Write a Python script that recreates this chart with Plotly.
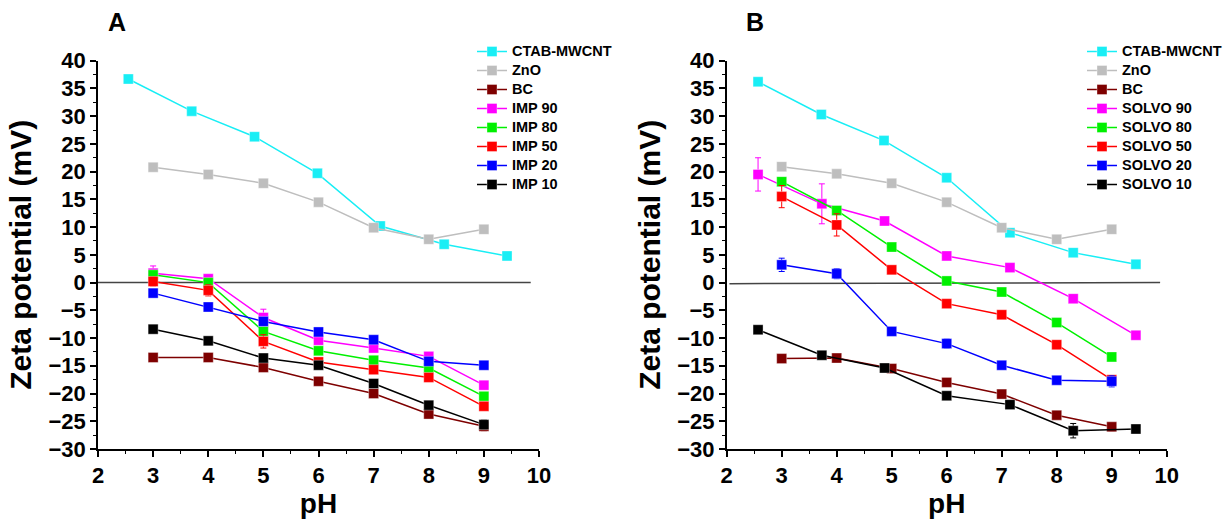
import plotly.graph_objects as go

# pH grid shared by most samples and the staggered grid of the titration runs
ph_std = [3, 4, 5, 6, 7, 8, 9]
ph_ctab_a = [2.55, 3.70, 4.84, 5.98, 7.12, 8.28, 9.42]
ph_ctab_b = [2.57, 3.72, 4.86, 6.00, 7.15, 8.30, 9.44]
ph_solvo_stag = [2.57, 3.73, 4.87, 6.00, 7.15, 8.30, 9.44]

# Panel A: zeta potential (mV)
a_ctab = [36.7, 30.9, 26.3, 19.7, 10.2, 6.9, 4.8]
a_zno = [20.8, 19.5, 17.9, 14.5, 9.9, 7.8, 9.6]
a_bc = [-13.5, -13.5, -15.3, -17.8, -20.0, -23.7, -25.9]
a_imp90 = [1.7, 0.7, -6.3, -10.4, -11.8, -13.3, -18.5]
a_imp80 = [1.4, 0.0, -8.8, -12.3, -14.0, -15.4, -20.5]
a_imp50 = [0.2, -1.4, -10.6, -14.3, -15.7, -17.1, -22.3]
a_imp20 = [-1.9, -4.4, -7.0, -8.9, -10.3, -14.2, -14.9]
a_imp10 = [-8.4, -10.5, -13.6, -14.9, -18.2, -22.1, -25.6]

a_err_ctab = [0.4, 0.4, 0.4, 0.6, 0.5, 0.4, 0.4]
a_err_zno = [0.4, 0.4, 0.6, 0.4, 0.4, 0.5, 0.4]
a_err_bc = [0.5, 0.5, 0.6, 0.5, 0.5, 0.6, 0.8]
a_err_imp90 = [1.3, 0.6, 1.5, 0.6, 0.5, 0.5, 0.5]
a_err_imp80 = [0.5, 0.5, 0.6, 0.5, 0.5, 0.5, 0.5]
a_err_imp50 = [0.8, 1.0, 1.2, 0.5, 0.5, 0.5, 0.5]
a_err_imp20 = [0.5, 0.5, 0.6, 0.5, 0.6, 0.5, 0.4]
a_err_imp10 = [0.5, 0.4, 0.5, 0.5, 0.6, 0.5, 0.8]

# Panel B: zeta potential (mV)
b_ctab = [36.2, 30.3, 25.6, 18.9, 9.0, 5.4, 3.3]
b_zno = [20.9, 19.6, 17.9, 14.5, 9.9, 7.8, 9.6]
b_bc = [-13.7, -13.6, -15.5, -18.0, -20.1, -23.9, -26.0]
b_solvo90 = [19.5, 14.2, 11.1, 4.8, 2.7, -2.9, -9.5]
b_solvo80 = [18.2, 13.0, 6.4, 0.3, -1.7, -7.2, -13.4]
b_solvo50 = [15.5, 10.4, 2.3, -3.8, -5.8, -11.2, -17.5]
b_solvo20 = [3.2, 1.6, -8.8, -11.0, -14.9, -17.6, -17.8]
b_solvo10 = [-8.5, -13.1, -15.4, -20.4, -22.0, -26.7, -26.4]

b_err_ctab = [0.4, 0.4, 0.4, 0.6, 0.5, 0.4, 0.4]
b_err_zno = [0.4, 0.4, 0.6, 0.4, 0.4, 0.5, 0.4]
b_err_bc = [0.5, 0.5, 0.6, 0.5, 0.5, 0.6, 0.7]
b_err_solvo90 = [3.0, 3.6, 0.5, 0.5, 0.5, 0.5, 0.5]
b_err_solvo80 = [0.5, 0.5, 0.5, 0.5, 0.5, 0.5, 0.5]
b_err_solvo50 = [2.0, 2.0, 0.5, 0.5, 0.5, 0.5, 0.6]
b_err_solvo20 = [1.2, 0.9, 0.5, 0.8, 0.5, 0.6, 1.0]
b_err_solvo10 = [0.4, 0.4, 0.4, 0.5, 0.5, 1.3, 0.7]

colors = {
    "CTAB-MWCNT": "#19EEF5",
    "ZnO": "#BEBEBE",
    "BC": "#7E0000",
    "90": "#FF00FF",
    "80": "#00F000",
    "50": "#FF0000",
    "20": "#0000FF",
    "10": "#000000",
}

FONT = "Arial, 'Liberation Sans', sans-serif"

panel_a = [
    ("CTAB-MWCNT", ph_ctab_a, a_ctab, a_err_ctab, colors["CTAB-MWCNT"]),
    ("ZnO", ph_std, a_zno, a_err_zno, colors["ZnO"]),
    ("BC", ph_std, a_bc, a_err_bc, colors["BC"]),
    ("IMP 90", ph_std, a_imp90, a_err_imp90, colors["90"]),
    ("IMP 80", ph_std, a_imp80, a_err_imp80, colors["80"]),
    ("IMP 50", ph_std, a_imp50, a_err_imp50, colors["50"]),
    ("IMP 20", ph_std, a_imp20, a_err_imp20, colors["20"]),
    ("IMP 10", ph_std, a_imp10, a_err_imp10, colors["10"]),
]

panel_b = [
    ("CTAB-MWCNT", ph_ctab_b, b_ctab, b_err_ctab, colors["CTAB-MWCNT"]),
    ("ZnO", ph_std, b_zno, b_err_zno, colors["ZnO"]),
    ("BC", ph_std, b_bc, b_err_bc, colors["BC"]),
    ("SOLVO 90", ph_solvo_stag, b_solvo90, b_err_solvo90, colors["90"]),
    ("SOLVO 80", ph_std, b_solvo80, b_err_solvo80, colors["80"]),
    ("SOLVO 50", ph_std, b_solvo50, b_err_solvo50, colors["50"]),
    ("SOLVO 20", ph_std, b_solvo20, b_err_solvo20, colors["20"]),
    ("SOLVO 10", ph_solvo_stag, b_solvo10, b_err_solvo10, colors["10"]),
]

fig = go.Figure()


def add_series(series, xaxis, yaxis, legend):
    for name, x, y, err, col in series:
        fig.add_trace(go.Scatter(
            x=x, y=y, mode="lines+markers",
            # larger label text while the legend rows keep a compact pitch
            name=f'<span style="font-size:14.5px">{name}</span>',
            xaxis=xaxis, yaxis=yaxis, legend=legend,
            line=dict(color=col, width=1.5),
            marker=dict(symbol="square", size=10, color=col,
                        line=dict(color="rgba(255,255,255,0.35)", width=1)),
            error_y=dict(type="data", array=err, visible=True,
                         color=col, thickness=1, width=3),
        ))


add_series(panel_a, "x", "y", "legend")
add_series(panel_b, "x2", "y2", "legend2")

tick_font = dict(family=FONT, size=22, color="black", weight="bold")

axis_common = dict(
    range=[2, 10], dtick=1, tick0=2, automargin=False,
    showline=True, linecolor="black", linewidth=1.5,
    ticks="outside", ticklen=6, tickwidth=1.5, tickcolor="black",
    minor=dict(ticks="outside", ticklen=3, tickwidth=1.2, tickcolor="black", dtick=0.5),
    showgrid=False, zeroline=False,
    tickfont=tick_font,
    title=dict(text="<b>pH</b>", font=dict(family=FONT, size=28, color="black"), standoff=10),
)
yaxis_common = dict(
    range=[-30, 40], dtick=5, tick0=0, automargin=False,
    showline=True, linecolor="black", linewidth=1.5,
    ticks="outside", ticklen=6, tickwidth=1.5, tickcolor="black",
    minor=dict(ticks="outside", ticklen=3, tickwidth=1.2, tickcolor="black", dtick=2.5),
    showgrid=False, zeroline=False,
    tickfont=tick_font,
    title=dict(text="<b>Zeta potential (mV)</b>", font=dict(family=FONT, size=30, color="black"),
               standoff=8),
)

legend_font = dict(family=FONT, size=12, color="black", weight="bold")

y_dom = [1 - 449 / 519, 1 - 60.7 / 519]
fig.update_layout(
    width=1224, height=519,
    margin=dict(l=0, r=0, t=0, b=0, autoexpand=False),
    paper_bgcolor="white", plot_bgcolor="white",
    showlegend=True,
    xaxis=dict(domain=[98 / 1224, 539 / 1224], anchor="y", **axis_common),
    yaxis=dict(domain=y_dom, anchor="x", **yaxis_common),
    xaxis2=dict(domain=[726.7 / 1224, 1166.7 / 1224], anchor="y2", **axis_common),
    yaxis2=dict(domain=y_dom, anchor="x2", **yaxis_common),
    legend=dict(x=472 / 1224, y=1 - 37 / 519, xanchor="left", yanchor="top",
                bgcolor="rgba(0,0,0,0)", tracegroupgap=0, itemwidth=30,
                font=legend_font),
    legend2=dict(x=1082 / 1224, y=1 - 37 / 519, xanchor="left", yanchor="top",
                 bgcolor="rgba(0,0,0,0)", tracegroupgap=0, itemwidth=30,
                 font=legend_font),
    annotations=[
        dict(text="<b>A</b>", x=117 / 1224, y=1 - 22 / 519, xref="paper", yref="paper",
             xanchor="center", yanchor="middle",
             showarrow=False, font=dict(family=FONT, size=25, color="black")),
        dict(text="<b>B</b>", x=755 / 1224, y=1 - 22 / 519, xref="paper", yref="paper",
             xanchor="center", yanchor="middle",
             showarrow=False, font=dict(family=FONT, size=25, color="black")),
    ],
    shapes=[
        dict(type="line", xref="x", yref="y", x0=2, x1=9.85, y0=0, y1=0,
             line=dict(color="#444444", width=1.5), layer="below"),
        dict(type="line", xref="x2", yref="y2", x0=2.05, x1=9.88, y0=-0.2, y1=0,
             line=dict(color="#444444", width=1.5), layer="below"),
    ],
)

fig.write_html("out.html")
